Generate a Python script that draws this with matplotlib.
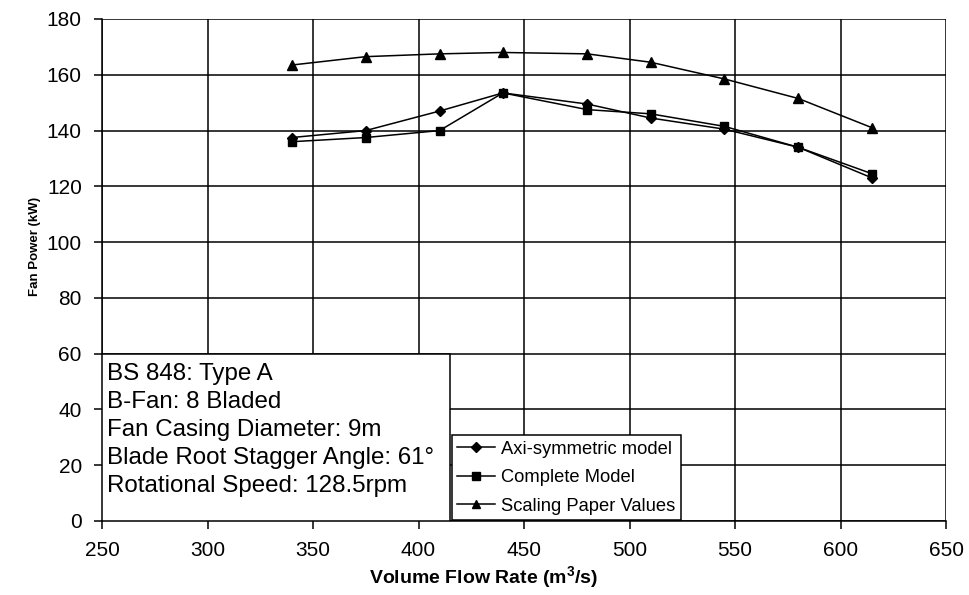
import matplotlib
matplotlib.use("Agg")
import matplotlib.pyplot as plt
from matplotlib.patches import Rectangle

plt.rcParams['font.family'] = ['Liberation Sans', 'DejaVu Sans']

flow_rate = [340, 375, 410, 440, 480, 510, 545, 580, 615]
axi_symmetric = [137.5, 140, 147, 153.5, 149.5, 144.5, 140.5, 134, 123]
complete_model = [136, 137.5, 140, 153.5, 147.5, 146, 141.5, 134, 124.5]
scaling_paper = [163.5, 166.5, 167.5, 168, 167.5, 164.5, 158.5, 151.5, 141]

x_ticks = [250, 300, 350, 400, 450, 500, 550, 600, 650]
y_ticks = [0, 20, 40, 60, 80, 100, 120, 140, 160, 180]

info_lines = [
    "BS 848: Type A",
    "B-Fan: 8 Bladed",
    "Fan Casing Diameter: 9m",
    "Blade Root Stagger Angle: 61\u00b0",
    "Rotational Speed: 128.5rpm",
]

fig = plt.figure(figsize=(9.69, 5.95), dpi=100)
ax = fig.add_axes([102 / 969, 1 - 521 / 595, 844 / 969, 502 / 595])

ax.plot(flow_rate, axi_symmetric, color='black', lw=1.1, marker='D',
        markersize=5.5, label='Axi-symmetric model', zorder=3)
ax.plot(flow_rate, complete_model, color='black', lw=1.1, marker='s',
        markersize=6, label='Complete Model', zorder=3)
ax.plot(flow_rate, scaling_paper, color='black', lw=1.1, marker='^',
        markersize=7, label='Scaling Paper Values', zorder=3)

ax.set_xlim(250, 650)
ax.set_ylim(0, 180)
ax.set_xticks(x_ticks)
ax.set_yticks(y_ticks)
ax.grid(True, color='black', lw=1.1)
ax.set_axisbelow(True)
for side in ['top', 'right']:
    ax.spines[side].set_visible(False)
for side in ['left', 'bottom']:
    ax.spines[side].set_linewidth(1.1)
ax.tick_params(axis='both', direction='out', length=5.5, width=1.1,
               labelsize=15, pad=9)

ax.set_xlabel("Volume Flow Rate (m$^\\mathregular{3}$/s)", fontsize=14,
              fontweight='bold', va='center')
ax.xaxis.set_label_coords(0.452, -0.113)
ax.set_ylabel("Fan Power (kW)", fontsize=9.5, fontweight='bold',
              va='center')
ax.yaxis.set_label_coords(-0.079, 0.546)

# information box in the lower-left corner
ax.add_patch(Rectangle((250, 0), 165, 60, facecolor='white',
                       edgecolor='black', lw=1.1, zorder=4))
ax.text(252.5, 56.5, "\n".join(info_lines), fontsize=17.4, va='top',
        ha='left', linespacing=1.34, zorder=5)

leg = ax.legend(loc='upper left', bbox_to_anchor=(415.7, 30.7),
                bbox_transform=ax.transData, fancybox=False,
                edgecolor='black', framealpha=1, fontsize=13.2,
                handlelength=2.07, handletextpad=0.33, borderpad=0.3,
                labelspacing=0.62, borderaxespad=0, markerscale=0.85)
leg.get_frame().set_linewidth(1.1)
leg.set_zorder(6)

fig.savefig("out.png", dpi=100)
